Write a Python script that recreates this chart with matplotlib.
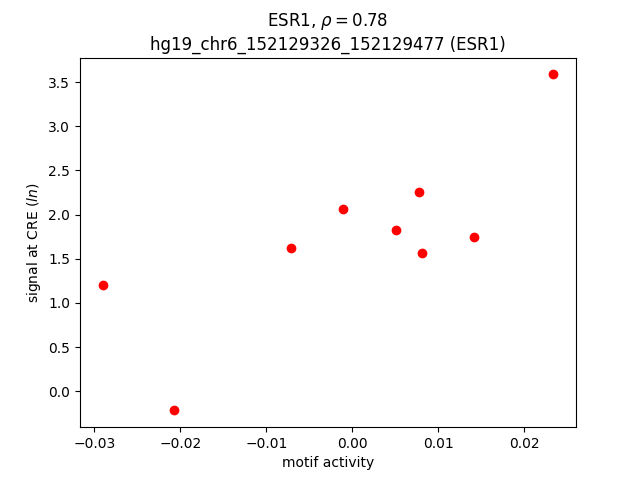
import matplotlib
matplotlib.use("Agg")
import matplotlib.pyplot as plt

motif_activity = [-0.02905, -0.02074, -0.00715, -0.00105, 0.00512, 0.00777, 0.00815, 0.01409, 0.02338]
signal = [1.198, -0.215, 1.62, 2.068, 1.831, 2.260, 1.571, 1.752, 3.586]

title = "ESR1, $\\rho = 0.78$\nhg19_chr6_152129326_152129477 (ESR1)"

fig, ax = plt.subplots(figsize=(6.4, 4.8), dpi=100)
ax.plot(motif_activity, signal, "o", color="red", linestyle="none")
ax.set_title(title)
ax.set_xlabel("motif activity")
ax.set_ylabel("signal at CRE ($ln$)")
fig.savefig("out.png", dpi=100)
